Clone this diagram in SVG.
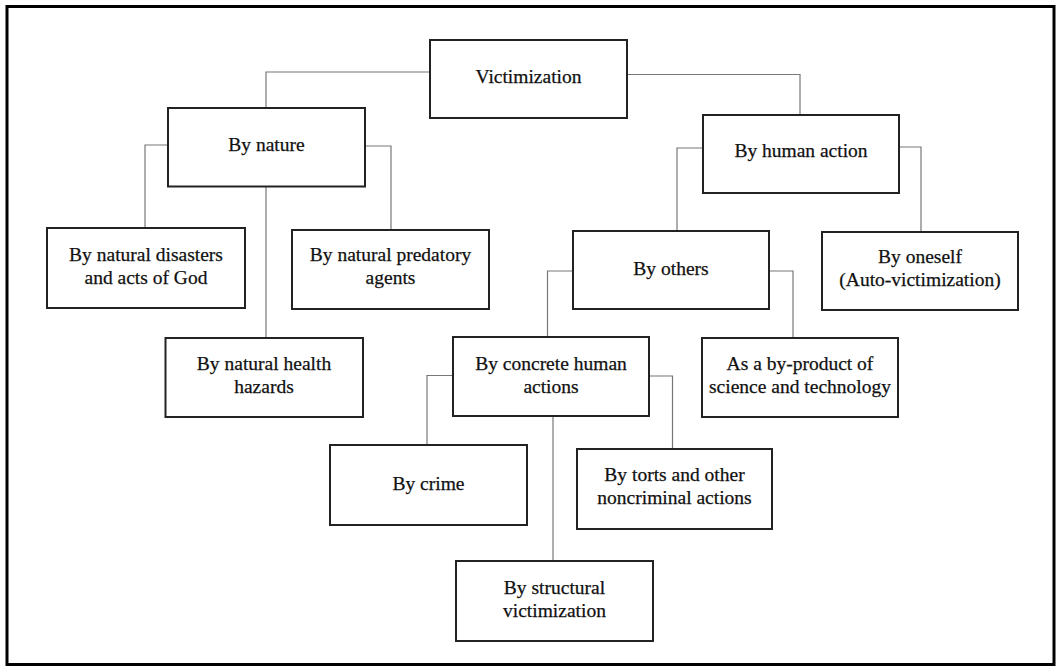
<svg xmlns="http://www.w3.org/2000/svg" width="1061" height="672" viewBox="0 0 1061 672">
<style>
.box{fill:#fff;stroke:#222;stroke-width:2}
.t{font-family:"Liberation Serif","Times New Roman",serif;font-size:19.5px;fill:#111;stroke:#111;stroke-width:0.25;text-anchor:middle}
.c{fill:none;stroke:#777;stroke-width:1.2}
</style>
<rect x="0" y="0" width="1061" height="672" fill="#fff"/>
<rect x="7" y="6.5" width="1047" height="658" fill="none" stroke="#000" stroke-width="3"/>
<g id="connectors">
<path class="c" d="M430 72 H266 V108"/>
<path class="c" d="M627 74.5 H800 V115"/>
<path class="c" d="M168 145 H145 V228"/>
<path class="c" d="M365 146 H391 V230"/>
<path class="c" d="M266 186.5 V338"/>
<path class="c" d="M703 148 H677 V231"/>
<path class="c" d="M899 147 H921 V232"/>
<path class="c" d="M573 271 H547.5 V337"/>
<path class="c" d="M769 271 H793 V338"/>
<path class="c" d="M453 375.5 H427 V445"/>
<path class="c" d="M649 376 H672.5 V449"/>
<path class="c" d="M553 416 V561"/>
</g>
<g id="victimization"><rect class="box" x="430" y="40" width="197" height="78"/><text class="t" x="528.5" y="83">Victimization</text></g>
<g id="by-nature"><rect class="box" x="168" y="108" width="197" height="78.5"/><text class="t" x="266.5" y="151">By nature</text></g>
<g id="by-human-action"><rect class="box" x="703" y="115" width="196" height="78"/><text class="t" x="801" y="157">By human action</text></g>
<g id="natural-disasters"><rect class="box" x="47" y="228" width="198" height="80"/><text class="t" x="146" y="261">By natural disasters</text><text class="t" x="146" y="284">and acts of God</text></g>
<g id="natural-predatory"><rect class="box" x="292" y="230" width="197" height="79"/><text class="t" x="390.5" y="261">By natural predatory</text><text class="t" x="390.5" y="284">agents</text></g>
<g id="by-others"><rect class="box" x="573" y="231" width="196" height="78"/><text class="t" x="671" y="275">By others</text></g>
<g id="by-oneself"><rect class="box" x="822" y="232" width="196" height="78"/><text class="t" x="920" y="263">By oneself</text><text class="t" x="920" y="286">(Auto-victimization)</text></g>
<g id="natural-health"><rect class="box" x="165.5" y="338" width="197.5" height="79"/><text class="t" x="264" y="370">By natural health</text><text class="t" x="264" y="393">hazards</text></g>
<g id="concrete-human"><rect class="box" x="453" y="337" width="196" height="79"/><text class="t" x="551" y="370">By concrete human</text><text class="t" x="551" y="393">actions</text></g>
<g id="by-product"><rect class="box" x="702" y="338" width="196" height="79"/><text class="t" x="800" y="370">As a by-product of</text><text class="t" x="800" y="393">science and technology</text></g>
<g id="by-crime"><rect class="box" x="330" y="445" width="197" height="80"/><text class="t" x="428.5" y="490">By crime</text></g>
<g id="by-torts"><rect class="box" x="577" y="449" width="195" height="80"/><text class="t" x="674.5" y="481">By torts and other</text><text class="t" x="674.5" y="504">noncriminal actions</text></g>
<g id="structural"><rect class="box" x="456" y="561" width="197" height="80"/><text class="t" x="554.5" y="594">By structural</text><text class="t" x="554.5" y="617">victimization</text></g>
</svg>
